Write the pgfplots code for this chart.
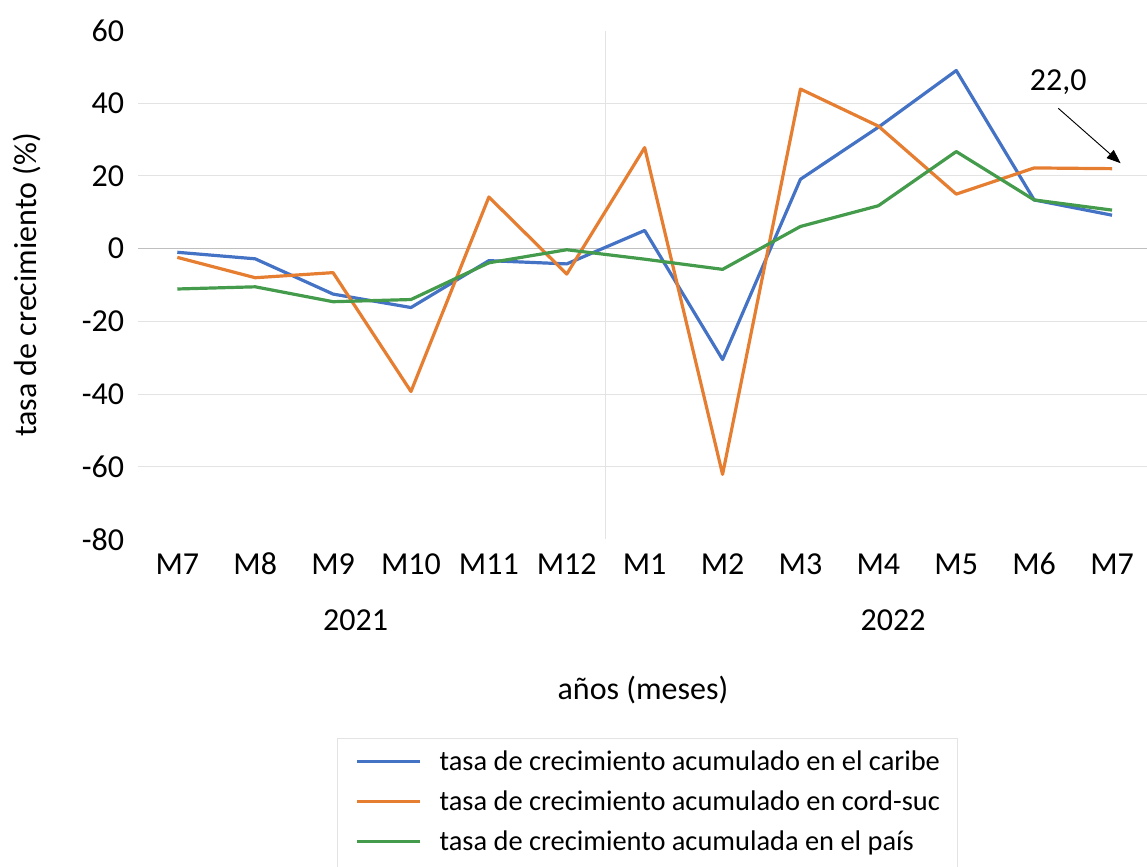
\documentclass[border=0pt]{standalone}
\usepackage{fontspec}
\setmainfont{Carlito}
\usepackage{pgfplots}
\pgfplotsset{compat=1.18}
\usetikzlibrary{arrows.meta}
\definecolor{cblue}{HTML}{4472C4}
\definecolor{corange}{HTML}{E67E32}
\definecolor{cgreen}{HTML}{439B4B}
\definecolor{cgrid}{HTML}{E3E3E3}
\definecolor{caxis}{HTML}{BFBFBF}
\begin{document}
\begin{tikzpicture}
\begin{axis}[
  scale only axis, width=759.5pt, height=381.7pt,
  xmin=-0.5, xmax=12.5, ymin=-80, ymax=60,
  clip=false,
  axis line style={draw=none},
  major tick length=0pt,
  xtick={0,...,12},
  xticklabels={M7,M8,M9,M10,M11,M12,M1,M2,M3,M4,M5,M6,M7},
  ytick={-60,-40,-20,0,20,40},
  ymajorgrids=true,
  xmajorgrids=false,
  major grid style={cgrid, line width=0.75pt},
  extra y ticks={-80,60},
  extra y tick style={ymajorgrids=false},
  /pgf/number format/assume math mode=true,
  ticklabel style={font=\fontsize{24}{28}\selectfont, inner sep=0pt},
  yticklabel style={anchor=east, xshift=-10.5pt},
  xticklabel style={anchor=base, yshift=-26.6pt},
  xlabel={años (meses)},
  ylabel={tasa de crecimiento (\%)},
  label style={font=\fontsize{24}{28}\selectfont},
  xlabel style={at={(axis description cs:0.4983,-0.2957)}, anchor=center, inner sep=0pt},
  ylabel style={at={(axis description cs:-0.11,0.5)}, anchor=center, inner sep=0pt},
  legend cell align=left,
  legend image code/.code={\draw[#1] (0pt,6.5pt) -- (47.25pt,6.5pt);},
  legend style={at={(axis description cs:0.1962,-0.390)}, anchor=north west,
    draw=cgrid, line width=0.75pt, fill=white,
    font=\fontsize{21.3}{25}\selectfont,
    inner xsep=13.5pt, inner ysep=9pt,
    /tikz/row sep=10pt, /tikz/column sep=13.5pt,
    nodes={inner sep=0pt, text height=15pt, text depth=5pt, anchor=base west}},
]
\draw[caxis, line width=1pt] (axis cs:-0.5,0) -- (axis cs:12.5,0);
\draw[cgrid, line width=0.75pt] (axis cs:5.5,-80) -- (axis cs:5.5,60);

\addplot[cblue, line width=2.4pt, line join=round] coordinates {
(0,-1.0) (1,-2.8) (2,-12.5) (3,-16.2) (4,-3.3) (5,-4.2) (6,5.0)
(7,-30.5) (8,19.1) (9,33.4) (10,49.0) (11,13.4) (12,9.2)};
\addlegendentry{tasa de crecimiento acumulado en el caribe}
\addplot[corange, line width=2.4pt, line join=round] coordinates {
(0,-2.4) (1,-8.0) (2,-6.6) (3,-39.3) (4,14.2) (5,-7.0) (6,27.8)
(7,-62.1) (8,43.9) (9,33.7) (10,15.0) (11,22.2) (12,22.0)};
\addlegendentry{tasa de crecimiento acumulado en cord-suc}
\addplot[cgreen, line width=2.4pt, line join=round] coordinates {
(0,-11.1) (1,-10.5) (2,-14.6) (3,-14.0) (4,-3.9) (5,-0.3) (6,-2.9)
(7,-5.7) (8,6.1) (9,11.8) (10,26.7) (11,13.4) (12,10.6)};
\addlegendentry{tasa de crecimiento acumulada en el país}

\node[font=\fontsize{24}{28}\selectfont, inner sep=0pt, anchor=center, yshift=-60.4pt] at (axis cs:2.29,-80) {2021};
\node[font=\fontsize{24}{28}\selectfont, inner sep=0pt, anchor=center, yshift=-60.4pt] at (axis cs:9.19,-80) {2022};
\node[font=\fontsize{24}{28}\selectfont, inner sep=0pt, anchor=center] at (axis cs:11.31,45.7) {22,0};
\draw[black, line width=0.7pt, -{Triangle[length=10.5pt,width=8pt]}] (axis cs:11.31,38.6) -- (axis cs:12.11,23.5);
\end{axis}
\pgfresetboundingbox
\path[use as bounding box] (-103.76pt,-245.6pt) rectangle (756.5pt,404.6pt);
\end{tikzpicture}
\end{document}
